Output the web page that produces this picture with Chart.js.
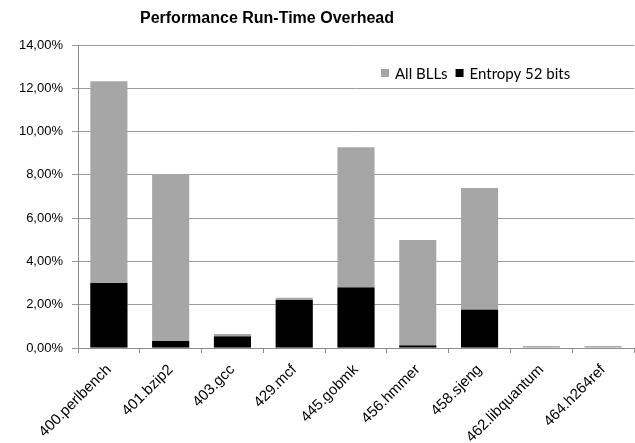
<!DOCTYPE html>
<html>
<head>
<meta charset="utf-8">
<script src="https://cdn.jsdelivr.net/npm/chart.js@4.4.0/dist/chart.umd.min.js"></script>
<style>
html, body { margin: 0; padding: 0; background: #fff; }
</style>
</head>
<body>
<canvas id="chart" width="635" height="443"></canvas>
<script>
var benchmarks = ['400.perlbench', '401.bzip2', '403.gcc', '429.mcf', '445.gobmk', '456.hmmer', '458.sjeng', '462.libquantum', '464.h264ref'];
var allBlls    = [12.33, 8.03, 0.65, 2.32, 9.27, 4.99, 7.39, 0.09, 0.09];
var entropy52  = [3.00, 0.32, 0.53, 2.22, 2.79, 0.12, 1.77, 0, 0];
var seriesNames = ['All BLLs', 'Entropy 52 bits'];
var chartTitle = 'Performance Run-Time Overhead';

// title + legend drawn by hand, excel puts them in odd places
var overlay = {
	id: 'overlay',
	afterDraw: function(chart) {
		var ctx = chart.ctx;
		ctx.save();
		ctx.fillStyle = '#000';
		ctx.font = 'bold 16px "Liberation Sans", Arial, sans-serif';
		ctx.textAlign = 'center';
		ctx.textBaseline = 'middle';
		ctx.fillText(chartTitle, 267, 19);

		ctx.font = '15px Lato, "Open Sans", sans-serif';
		ctx.textAlign = 'left';
		var x = 381, y = 73;
		chart.data.datasets.forEach(function(ds) {
			ctx.fillStyle = ds.backgroundColor;
			ctx.fillRect(x, y - 4, 8, 8);
			x += 14;
			ctx.fillStyle = '#000';
			ctx.fillText(ds.label, x, y + 1);
			x += ctx.measureText(ds.label).width + 8;
		});
		ctx.restore();
	}
};

new Chart(document.getElementById('chart'), {
	type: 'bar',
	data: {
		labels: benchmarks,
		datasets: [
			{
				label: seriesNames[0],
				data: allBlls,
				backgroundColor: '#A6A6A6',
				order: 1
			},
			{
				label: seriesNames[1],
				data: entropy52,
				backgroundColor: '#000000',
				order: 0
			}
		]
	},
	options: {
		responsive: false,
		animation: false,
		devicePixelRatio: 1,
		layout: { padding: { top: 45, right: 1, left: 0, bottom: 0 } },
		datasets: {
			bar: { grouped: false, barPercentage: 0.6, categoryPercentage: 1.0 }
		},
		plugins: {
			legend: { display: false },
			title: { display: false },
			tooltip: { enabled: false }
		},
		scales: {
			x: {
				afterFit: function(scale) { scale.height = 95; },
				grid: { drawOnChartArea: false, drawTicks: true, tickLength: 5, color: '#8C8C8C', offset: true },
				border: { color: '#8C8C8C' },
				ticks: {
					maxRotation: 45, minRotation: 45,
					color: '#000',
					font: { family: '"Liberation Sans", Arial, sans-serif', size: 15 },
					padding: 8
				}
			},
			y: {
				min: 0, max: 14,
				afterFit: function(scale) { scale.width = 78; },
				grid: { color: '#9A9A9A', tickLength: 6 },
				border: { color: '#8C8C8C' },
				ticks: {
					stepSize: 2,
					padding: 9,
					color: '#000',
					font: { family: '"Liberation Sans", Arial, sans-serif', size: 13 },
					callback: function(v) { return v.toFixed(2).replace('.', ',') + '%'; }
				}
			}
		}
	},
	plugins: [overlay]
});
</script>
</body>
</html>
